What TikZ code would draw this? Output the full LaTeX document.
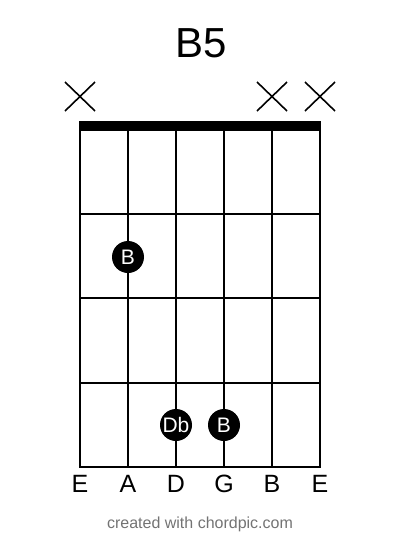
\documentclass[tikz,border=0pt]{standalone}
\usepackage{fontspec}
\setmainfont{Liberation Sans}

\begin{document}
\begin{tikzpicture}[x=1pt, y=-1pt, every node/.style={font=\fontsize{25}{25}\selectfont, inner sep=0pt},
	fingerdot/.style={circle, fill=black, text=white, minimum size=32pt, font=\fontsize{21}{21}\selectfont},
	mute/.style={line width=1.6pt},
	stringline/.style={line width=2.4pt},
	fretline/.style={line width=2pt}]
	\useasboundingbox (0,0) rectangle (400,544);
	\node (title) at (201,43) {\fontsize{42}{42}\selectfont B5};
	% mutes
	\foreach \x in {80,272,320} \draw[mute] (\x-15,82) -- (\x+15,111) (\x-15,111) -- (\x+15,82);
	% nut, frets, strings
	\fill (79,121) rectangle (321,131);
	\foreach \y in {214,298,383,467} \draw[fretline] (79,\y) -- (321,\y);
	\foreach \x in {80,128,176,224,272,320} \draw[stringline] (\x,126) -- (\x,466);
	% fingers
	\node[fingerdot] (fA) at (128,257) {B};
	\node[fingerdot] (fD) at (176,425) {Db};
	\node[fingerdot] (fG) at (224,425) {B};
	% tuning
	\node (sE) at (80,484) {E};
	\node (sA) at (128,484) {A};
	\node (sD) at (176,484) {D};
	\node (sG) at (224,484) {G};
	\node (sB) at (272,484) {B};
	\node (sEh) at (320,484) {E};
	\node[text=black!55, font=\fontsize{16}{16}\selectfont] (credit) at (200,524) {created with chordpic.com};
\end{tikzpicture}
\end{document}
